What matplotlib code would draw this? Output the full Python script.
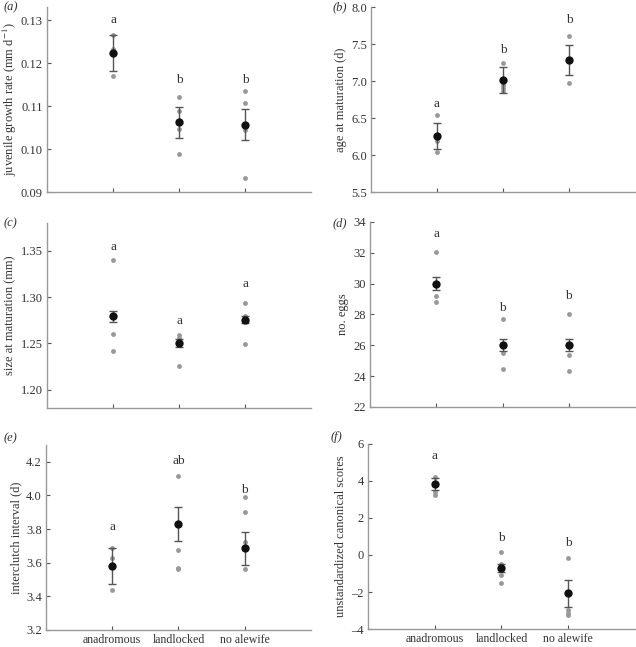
import matplotlib.pyplot as plt
import numpy as np

plt.rcParams["font.family"] = ["Liberation Serif", "DejaVu Serif"]
plt.rcParams["mathtext.fontset"] = "stix"

groups = ["anadromous", "landlocked", "no alewife"]

# per-population values (grey), group means and error bars (black), letters
growth_pts = [[0.1266, 0.1233, 0.1169], [0.1122, 0.1089, 0.1046, 0.0989], [0.1135, 0.1108, 0.1045, 0.0933]]
growth_mean = [0.1223, 0.1062, 0.1056]
growth_err = [0.0042, 0.0036, 0.0036]
growth_let = ["a", "b", "b"]

age_pts = [[6.545, 6.185, 6.036], [7.243, 6.95, 6.90, 6.86], [7.613, 6.977]]
age_mean = [6.252, 7.018, 7.288]
age_err = [0.175, 0.176, 0.20]
age_let = ["a", "b", "b"]

size_pts = [[1.3396, 1.260, 1.242], [1.2586, 1.2557, 1.2259], [1.2932, 1.2791, 1.2489]]
size_mean = [1.279, 1.250, 1.2755]
size_err = [0.006, 0.0045, 0.004]
size_let = ["a", "a", "a"]

eggs_pts = [[32.05, 29.22, 28.83], [27.73, 25.51, 24.45], [28.03, 25.38, 24.32]]
eggs_mean = [30.0, 26.0, 26.02]
eggs_err = [0.42, 0.39, 0.38]
eggs_let = ["a", "b", "b"]

inter_pts = [[3.689, 3.630, 3.436], [4.117, 3.675, 3.566, 3.560], [3.988, 3.903, 3.721, 3.560]]
inter_mean = [3.580, 3.830, 3.685]
inter_err = [0.108, 0.103, 0.10]
inter_let = ["a", "ab", "b"]

canon_pts = [[4.234, 3.42, 3.26], [0.16, -0.5, -1.10, -1.51], [-0.14, -2.99, -3.12, -3.24]]
canon_mean = [3.838, -0.70, -2.07]
canon_err = [0.30, 0.20, 0.74]
canon_let = ["a", "b", "b"]

panels = [
    ("a", growth_pts, growth_mean, growth_err, growth_let, [0.1299, 0.1160, 0.1160],
     "juvenile growth rate (mm d$^{-1}$)", (0.09, 0.133), np.arange(0.09, 0.1301, 0.01), "{:.2f}",
     [0.0739, 0.7032, 0.4151, 0.2858]),
    ("b", age_pts, age_mean, age_err, age_let, [6.685, 7.423, 7.829],
     "age at maturation (d)", (5.5, 8.0), np.arange(5.5, 8.01, 0.5), "{:.1f}",
     [0.5833, 0.7032, 0.4151, 0.2858]),
    ("c", size_pts, size_mean, size_err, size_let, [1.3536, 1.2745, 1.314],
     "size at maturation (mm)", (1.18, 1.38), np.arange(1.20, 1.351, 0.05), "{:.2f}",
     [0.0739, 0.3694, 0.4151, 0.2859]),
    ("d", eggs_pts, eggs_mean, eggs_err, eggs_let, [33.24, 28.42, 29.2],
     "no. eggs", (22, 34), np.arange(22, 34.1, 2), "{:.0f}",
     [0.5818, 0.3710, 0.4166, 0.2860]),
    ("e", inter_pts, inter_mean, inter_err, inter_let, [3.814, 4.206, 4.032],
     "interclutch interval (d)", (3.2, 4.3), np.arange(3.2, 4.21, 0.2), "{:.1f}",
     [0.0723, 0.0263, 0.4167, 0.2859]),
    ("f", canon_pts, canon_mean, canon_err, canon_let, [5.35, 0.9, 0.63],
     "unstandardized canonical scores", (-4, 6), np.arange(-4, 6.1, 2), "{:.0f}",
     [0.5786, 0.0278, 0.4198, 0.2860]),
]

fig = plt.figure(figsize=(6.36, 6.47), dpi=100)
x = np.arange(len(groups))

for tag, pts, mean, err, letters, lety, ylabel, ylim, yticks, fmt, rect in panels:
    ax = fig.add_axes(rect)
    for xi, vals in zip(x, pts):
        ax.plot([xi] * len(vals), vals, "o", color="#999999", markersize=3.5,
                markeredgewidth=0, zorder=2)
    ax.errorbar(x, mean, yerr=err, fmt="none", ecolor="#555555", elinewidth=1.0,
                capsize=3, capthick=1.0, zorder=3)
    ax.plot(x, mean, "o", color="#111111", markersize=6, markeredgewidth=0, zorder=4)
    for xi, let, ly in zip(x, letters, lety):
        ax.text(xi, ly, let, ha="center", va="center", fontsize=9.5, color="#333333")

    ax.set_xlim(-1, 3)
    ax.set_ylim(*ylim)
    ax.set_yticks(yticks)
    ax.set_yticklabels([fmt.format(v).replace("-", "\u2013") for v in yticks])
    ax.set_xticks(x)
    if tag in ("e", "f"):
        ax.set_xticklabels(groups)
    else:
        ax.set_xticklabels([])
    ax.set_ylabel(ylabel, fontsize=9, color="#333333", labelpad=1 if tag == "a" else 3)
    ax.tick_params(direction="in", length=3, width=0.8, color="#555555",
                   labelcolor="#333333", pad=3)
    ax.tick_params(axis="y", labelsize=9)
    ax.tick_params(axis="x", labelsize=8.6)
    for side in ("top", "right"):
        ax.spines[side].set_visible(False)
    for side in ("left", "bottom"):
        ax.spines[side].set_color("#999999")
        ax.spines[side].set_linewidth(1.0)
    ax.set_facecolor("none")

# panel letters
labels_pos = {"a": (0.006, 0.988), "b": (0.523, 0.988), "c": (0.006, 0.655),
              "d": (0.523, 0.655), "e": (0.006, 0.322), "f": (0.520, 0.325)}
for tag, (px, py) in labels_pos.items():
    fig.text(px, py, f"({tag})", fontsize=9, style="italic", color="#333333",
             ha="left", va="center")

fig.savefig("out.png", dpi=100)
